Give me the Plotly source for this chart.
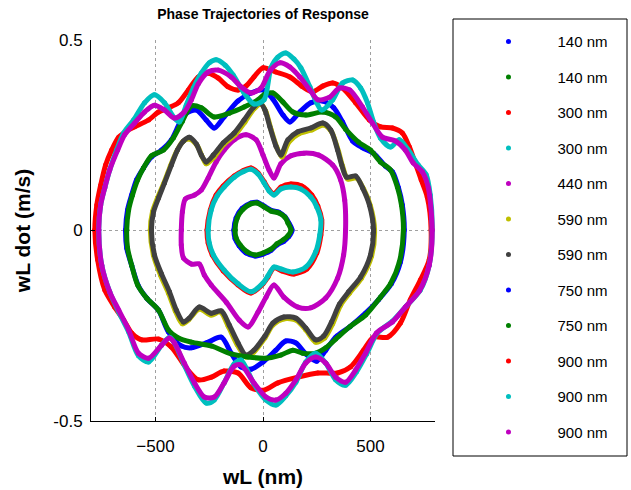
import plotly.graph_objects as go

# ---------------- data (wL in nm, wL dot in m/s) ----------------
labels = ["140 nm", "140 nm", "300 nm", "300 nm", "440 nm", "590 nm",
          "590 nm", "750 nm", "750 nm", "900 nm", "900 nm", "900 nm"]
colors = ["#0000ff", "#008000", "#ff0000", "#00bfbf", "#bf00bf", "#bfbf00",
          "#404040", "#0000ff", "#008000", "#ff0000", "#00bfbf", "#bf00bf"]

x_140a = [-135, -125, -97, -56, -28, 5, 37, 74, 102, 120, 135, 120, 97, 65, 37, 0, -37, -79, -111, -130, -135]
y_140a = [0.001, 0.033, 0.058, 0.072, 0.074, 0.064, 0.053, 0.048, 0.036, 0.020, 0.001, -0.016, -0.028, -0.038, -0.052, -0.062, -0.067, -0.059, -0.040, -0.021, 0.001]

x_140b = [-130, -120, -93, -56, -28, 5, 37, 74, 102, 116, 130, 116, 93, 65, 37, 0, -37, -74, -106, -125, -130]
y_140b = [0.001, 0.033, 0.056, 0.070, 0.072, 0.062, 0.051, 0.046, 0.035, 0.020, 0.001, -0.014, -0.025, -0.035, -0.049, -0.059, -0.064, -0.056, -0.038, -0.020, 0.001]

x_300a = [-260, -245, -218, -185, -134, -93, -56, -23, 5, 28, 51, 83, 130, 180, 227, 255, 273, 269, 250, 204, 144, 88, 51, 23, 0, -56, -116, -185, -236, -255, -260]
y_300a = [0.001, 0.054, 0.093, 0.117, 0.143, 0.157, 0.164, 0.151, 0.128, 0.107, 0.096, 0.114, 0.122, 0.117, 0.093, 0.064, 0.028, -0.012, -0.059, -0.101, -0.114, -0.106, -0.098, -0.122, -0.140, -0.164, -0.143, -0.106, -0.064, -0.033, 0.001]

x_300b = [-255, -241, -213, -181, -134, -93, -56, -23, 5, 28, 51, 83, 130, 176, 222, 250, 269, 264, 245, 199, 139, 83, 51, 23, 0, -56, -116, -181, -231, -250, -255]
y_300b = [0.001, 0.054, 0.091, 0.114, 0.140, 0.154, 0.161, 0.148, 0.125, 0.104, 0.093, 0.109, 0.114, 0.109, 0.088, 0.062, 0.028, -0.012, -0.056, -0.096, -0.109, -0.101, -0.096, -0.119, -0.138, -0.161, -0.140, -0.104, -0.064, -0.033, 0.001]

x_440 = [-380, -375, -361, -319, -287, -255, -218, -181, -134, -79, -32, 0, 28, 51, 83, 130, 190, 259, 324, 361, 380, 384, 375, 347, 292, 222, 162, 97, 51, 14, -23, -69, -111, -171, -241, -273, -296, -333, -370, -380, -380]
y_440 = [0.001, 0.049, 0.083, 0.093, 0.106, 0.138, 0.180, 0.211, 0.238, 0.251, 0.238, 0.198, 0.159, 0.138, 0.175, 0.196, 0.203, 0.198, 0.172, 0.133, 0.080, 0.001, -0.064, -0.125, -0.177, -0.203, -0.201, -0.175, -0.143, -0.175, -0.214, -0.253, -0.235, -0.188, -0.143, -0.117, -0.088, -0.088, -0.072, -0.038, 0.001]

x_590a = [-524, -514, -491, -463, -431, -403, -375, -343, -305, -282, -264, -227, -181, -130, -84, -42, -9, 14, 37, 65, 88, 120, 167, 227, 282, 319, 352, 370, 394, 435, 468, 500, 519, 505, 458, 403, 361, 324, 287, 245, 199, 153, 97, 46, 9, -42, -79, -120, -162, -199, -241, -296, -347, -375, -408, -440, -477, -510, -524]
y_590a = [0.001, 0.049, 0.085, 0.122, 0.169, 0.206, 0.232, 0.240, 0.222, 0.193, 0.175, 0.193, 0.227, 0.251, 0.285, 0.319, 0.332, 0.311, 0.266, 0.217, 0.193, 0.232, 0.254, 0.264, 0.277, 0.259, 0.206, 0.169, 0.135, 0.138, 0.109, 0.064, 0.001, -0.067, -0.125, -0.164, -0.196, -0.245, -0.282, -0.293, -0.261, -0.235, -0.232, -0.248, -0.282, -0.319, -0.332, -0.300, -0.251, -0.214, -0.222, -0.206, -0.235, -0.245, -0.211, -0.164, -0.117, -0.064, 0.001]

x_590b = [-519, -509, -486, -458, -426, -398, -370, -343, -310, -287, -264, -231, -185, -134, -88, -46, -14, 9, 32, 60, 83, 116, 162, 222, 278, 315, 347, 366, 389, 431, 463, 495, 514, 500, 454, 398, 356, 319, 282, 245, 199, 153, 97, 46, 9, -42, -79, -116, -157, -194, -241, -296, -343, -370, -403, -435, -472, -505, -519]
y_590b = [0.001, 0.049, 0.085, 0.125, 0.172, 0.211, 0.235, 0.245, 0.227, 0.198, 0.180, 0.198, 0.230, 0.256, 0.290, 0.322, 0.335, 0.316, 0.272, 0.222, 0.198, 0.238, 0.259, 0.269, 0.282, 0.264, 0.211, 0.172, 0.140, 0.143, 0.112, 0.067, 0.001, -0.064, -0.122, -0.161, -0.193, -0.240, -0.277, -0.287, -0.256, -0.230, -0.227, -0.243, -0.277, -0.314, -0.327, -0.295, -0.248, -0.211, -0.217, -0.201, -0.230, -0.240, -0.209, -0.161, -0.114, -0.064, 0.001]

x_750a = [-639, -630, -611, -588, -556, -519, -472, -426, -389, -357, -310, -264, -227, -181, -116, -56, 0, 46, 93, 125, 171, 222, 278, 329, 370, 417, 463, 514, 569, 602, 630, 648, 657, 639, 597, 537, 477, 403, 338, 292, 250, 199, 153, 106, 60, 0, -56, -102, -148, -194, -255, -333, -380, -440, -486, -537, -579, -611, -634, -639]
y_750a = [0.001, 0.054, 0.093, 0.133, 0.164, 0.193, 0.211, 0.238, 0.280, 0.308, 0.316, 0.290, 0.269, 0.298, 0.340, 0.361, 0.369, 0.345, 0.303, 0.285, 0.311, 0.335, 0.340, 0.322, 0.285, 0.235, 0.217, 0.203, 0.169, 0.154, 0.112, 0.067, 0.001, -0.083, -0.140, -0.182, -0.217, -0.253, -0.280, -0.314, -0.343, -0.324, -0.295, -0.290, -0.314, -0.345, -0.364, -0.358, -0.322, -0.280, -0.293, -0.308, -0.303, -0.266, -0.209, -0.180, -0.146, -0.091, -0.046, 0.001]

x_750b = [-634, -625, -607, -583, -556, -519, -463, -417, -375, -333, -287, -227, -157, -88, -23, 9, 46, 93, 139, 199, 278, 338, 384, 444, 500, 546, 593, 625, 644, 653, 634, 593, 546, 477, 407, 338, 292, 245, 185, 139, 83, 14, -69, -148, -241, -333, -394, -440, -486, -542, -583, -611, -630, -634]
y_750b = [0.001, 0.054, 0.093, 0.133, 0.164, 0.196, 0.211, 0.243, 0.287, 0.327, 0.322, 0.298, 0.308, 0.324, 0.343, 0.358, 0.361, 0.337, 0.311, 0.303, 0.311, 0.298, 0.266, 0.232, 0.211, 0.180, 0.159, 0.114, 0.067, 0.001, -0.083, -0.140, -0.175, -0.222, -0.251, -0.285, -0.308, -0.322, -0.322, -0.314, -0.327, -0.335, -0.332, -0.324, -0.303, -0.293, -0.282, -0.261, -0.209, -0.177, -0.143, -0.091, -0.046, 0.001]

x_900a = [-782, -773, -755, -732, -704, -671, -634, -597, -532, -486, -440, -394, -347, -301, -255, -208, -162, -116, -79, -42, 0, 60, 125, 185, 231, 278, 324, 370, 431, 495, 546, 602, 648, 681, 708, 736, 764, 782, 773, 732, 685, 639, 579, 514, 468, 407, 347, 255, 162, 69, 5, -56, -116, -181, -241, -301, -357, -426, -486, -565, -611, -648, -690, -736, -769, -782]
y_900a = [0.001, 0.067, 0.119, 0.172, 0.211, 0.245, 0.261, 0.272, 0.290, 0.311, 0.322, 0.335, 0.369, 0.403, 0.413, 0.400, 0.377, 0.369, 0.379, 0.403, 0.427, 0.416, 0.403, 0.377, 0.364, 0.379, 0.387, 0.374, 0.335, 0.290, 0.272, 0.269, 0.256, 0.219, 0.177, 0.133, 0.088, 0.001, -0.077, -0.130, -0.182, -0.243, -0.280, -0.280, -0.314, -0.358, -0.374, -0.374, -0.385, -0.400, -0.419, -0.413, -0.374, -0.369, -0.385, -0.392, -0.361, -0.306, -0.285, -0.287, -0.269, -0.235, -0.201, -0.156, -0.077, 0.001]

x_900b = [-764, -755, -736, -713, -681, -648, -602, -551, -505, -458, -412, -389, -357, -324, -287, -250, -218, -176, -139, -88, -42, 5, 37, 69, 106, 144, 176, 218, 250, 273, 324, 370, 417, 454, 486, 514, 546, 593, 634, 676, 722, 759, 778, 787, 773, 732, 667, 602, 532, 482, 435, 384, 338, 292, 245, 199, 153, 106, 60, 14, -42, -102, -134, -181, -227, -264, -319, -366, -412, -435, -472, -532, -579, -625, -671, -713, -750, -764]
y_900b = [0.001, 0.067, 0.112, 0.159, 0.211, 0.256, 0.290, 0.335, 0.356, 0.335, 0.295, 0.285, 0.329, 0.374, 0.413, 0.440, 0.448, 0.434, 0.408, 0.361, 0.332, 0.343, 0.427, 0.455, 0.466, 0.450, 0.427, 0.377, 0.335, 0.316, 0.343, 0.387, 0.395, 0.374, 0.335, 0.285, 0.243, 0.219, 0.238, 0.211, 0.172, 0.146, 0.093, 0.001, -0.091, -0.156, -0.198, -0.238, -0.269, -0.324, -0.371, -0.406, -0.392, -0.348, -0.322, -0.345, -0.398, -0.434, -0.458, -0.445, -0.403, -0.340, -0.350, -0.400, -0.445, -0.453, -0.408, -0.353, -0.295, -0.280, -0.301, -0.345, -0.329, -0.266, -0.214, -0.161, -0.091, 0.001]

x_900c = [-764, -755, -736, -713, -676, -644, -597, -551, -505, -458, -412, -366, -333, -301, -255, -208, -148, -102, -56, -9, 32, 79, 125, 171, 218, 255, 310, 356, 403, 463, 509, 556, 616, 662, 699, 741, 769, 787, 773, 727, 662, 602, 528, 477, 431, 384, 338, 292, 245, 199, 153, 106, 60, 14, -42, -102, -134, -181, -227, -273, -319, -366, -412, -435, -472, -532, -579, -625, -671, -713, -750, -764]
y_900c = [0.001, 0.067, 0.112, 0.159, 0.211, 0.251, 0.282, 0.311, 0.329, 0.316, 0.295, 0.311, 0.343, 0.385, 0.416, 0.421, 0.403, 0.377, 0.361, 0.374, 0.419, 0.440, 0.429, 0.403, 0.369, 0.343, 0.350, 0.374, 0.369, 0.324, 0.282, 0.245, 0.235, 0.211, 0.177, 0.154, 0.112, 0.001, -0.091, -0.159, -0.201, -0.240, -0.269, -0.322, -0.366, -0.398, -0.385, -0.348, -0.332, -0.348, -0.392, -0.427, -0.445, -0.437, -0.400, -0.353, -0.356, -0.400, -0.437, -0.437, -0.400, -0.348, -0.295, -0.282, -0.301, -0.335, -0.322, -0.261, -0.209, -0.161, -0.091, 0.001]

series_x = [x_140a, x_140b, x_300a, x_300b, x_440, x_590a, x_590b, x_750a, x_750b, x_900a, x_900b, x_900c]
series_y = [y_140a, y_140b, y_300a, y_300b, y_440, y_590a, y_590b, y_750a, y_750b, y_900a, y_900b, y_900c]

x_ticks = [-500, 0, 500]
y_ticks = [-0.5, 0, 0.5]
y_ticktext = ["-0.5", "0", "0.5"]

FONT = "Liberation Sans, Arial, Helvetica, sans-serif"

fig = go.Figure()
for i, (xs, ys) in enumerate(zip(series_x, series_y)):
    grp = f"g{i}"
    fig.add_trace(go.Scatter(
        x=xs, y=ys, mode="lines", line=dict(color=colors[i], width=5, shape="spline", smoothing=0.8),
        legendgroup=grp, showlegend=False, hoverinfo="skip"))
    fig.add_trace(go.Scatter(
        x=xs, y=ys, mode="markers", marker=dict(color=colors[i], size=5),
        name=labels[i], legendgroup=grp, showlegend=True))

fig.update_layout(
    width=631, height=490,
    margin=dict(l=91, r=196, t=40, b=69, autoexpand=False),
    paper_bgcolor="white", plot_bgcolor="white",
    font=dict(family=FONT, color="black", size=17),
    title=dict(text="<b>Phase Trajectories of Response</b>", x=0.5, xref="paper",
               y=1 - 14 / 490, yref="container", yanchor="middle",
               font=dict(size=14, family=FONT, color="black")),
    showlegend=True,
    legend=dict(x=1.0712, xanchor="left", y=1.039, yanchor="top",
                traceorder="grouped", tracegroupgap=13, itemwidth=88,
                maxheight=480,
                font=dict(size=15, family=FONT, color="black"),
                bgcolor="rgba(0,0,0,0)", borderwidth=0),
    shapes=[dict(type="rect", xref="paper", yref="paper",
                 x0=(453 - 91) / 344, x1=(627 - 91) / 344,
                 y0=(421 - 456) / 381, y1=(421 - 19) / 381,
                 line=dict(color="black", width=1), fillcolor="rgba(0,0,0,0)", layer="above")],
)

fig.update_xaxes(range=[-800, 800], tickvals=x_ticks, ticks="inside", ticklen=4,
                 tickcolor="black", showline=True, linecolor="black", linewidth=1,
                 showgrid=True, gridcolor="#a0a0a0", griddash="dot", gridwidth=1,
                 zeroline=False, ticklabelstandoff=10, automargin=False,
                 tickfont=dict(size=17),
                 title=dict(text="<b>wL (nm)</b>", font=dict(size=21), standoff=13))
fig.update_yaxes(range=[-0.5, 0.5], tickvals=y_ticks, ticktext=y_ticktext, ticks="inside",
                 ticklen=4, tickcolor="black", showline=True, linecolor="black", linewidth=1,
                 showgrid=True, gridcolor="#a0a0a0", griddash="dot", gridwidth=1,
                 zeroline=False, ticklabelstandoff=4, automargin=False,
                 tickfont=dict(size=17),
                 title=dict(text="<b>wL dot (m/s)</b>", font=dict(size=21), standoff=16))

fig.write_html("out.html", config={"displayModeBar": False},
               post_script="document.body.style.margin='0px';")
